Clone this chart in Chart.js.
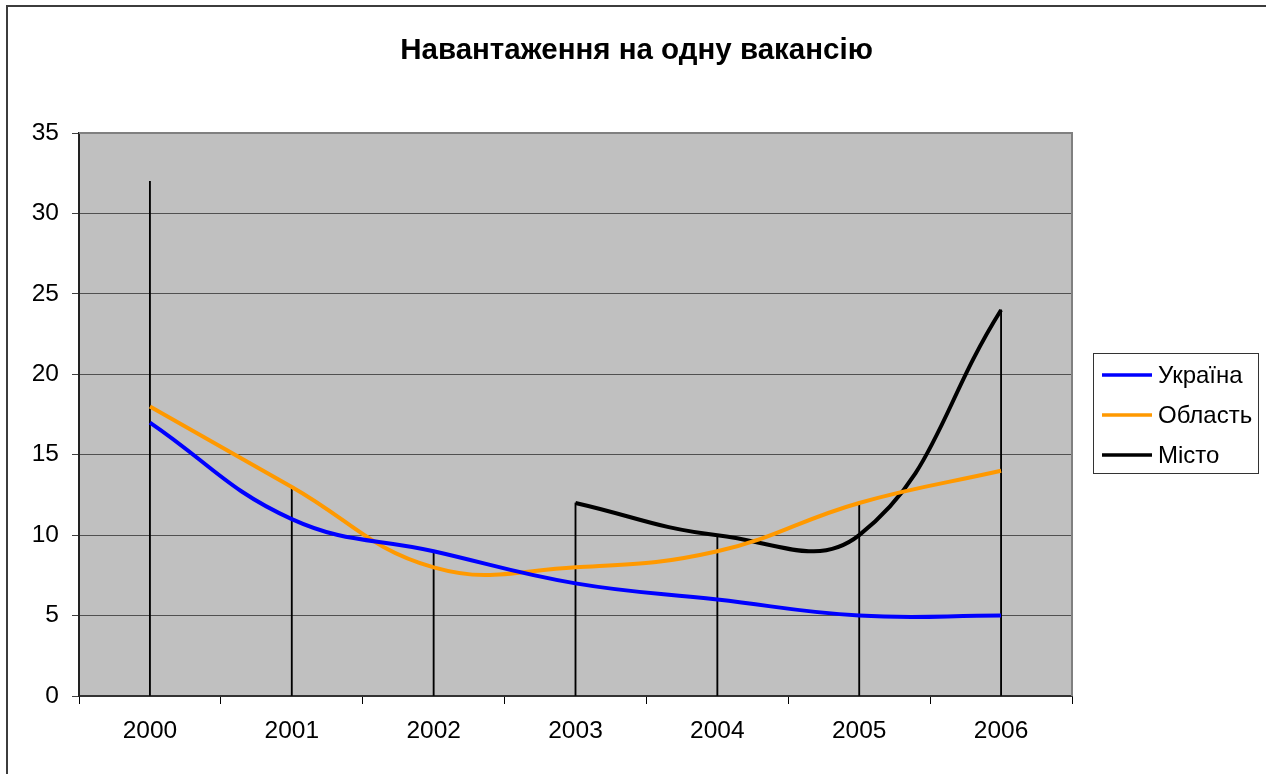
<!DOCTYPE html>
<html>
<head>
<meta charset="utf-8">
<script src="https://cdn.jsdelivr.net/npm/chart.js@4"></script>
<style>
  html, body { margin: 0; padding: 0; background: #fff; }
  #wrap { width: 1266px; height: 774px; position: relative; }
</style>
</head>
<body>
<div id="wrap"><canvas id="c" width="1266" height="774"></canvas></div>
<script>
const chartTitle = 'Навантаження на одну вакансію';
const categories = ['2000', '2001', '2002', '2003', '2004', '2005', '2006'];
const seriesNames = ['Україна', 'Область', 'Місто'];
const ukraine = [17, 11, 9, 7, 6, 5, 5];
const oblast = [18, 13, 8, 8, 9, 12, 14];
const city = [32, null, null, 12, 10, 10, 24];
const yMin = 0, yMax = 35, yStep = 5;

const seriesColors = ['#0000FF', '#FF9900', '#000000'];
const allSeries = [ukraine, oblast, city];
// drop lines reach the highest value of each category
const dropLines = categories.map((_, i) =>
  Math.max(...allSeries.map(s => s[i]).filter(v => v !== null)));

const FONT = "'Liberation Sans', Arial, sans-serif";
Chart.defaults.font.family = FONT;
Chart.defaults.color = '#000';

const framePlugin = {
  id: 'frame',
  beforeDraw(chart) {
    const { ctx, chartArea: a } = chart;
    ctx.save();
    ctx.fillStyle = '#fff';
    ctx.fillRect(0, 0, chart.width, chart.height);
    // outer chart border (cut off at right and bottom)
    ctx.strokeStyle = '#3c3c3c';
    ctx.lineWidth = 2;
    ctx.beginPath();
    ctx.moveTo(7, chart.height + 5);
    ctx.lineTo(7, 6);
    ctx.lineTo(chart.width + 5, 6);
    ctx.stroke();
    // plot area
    ctx.fillStyle = '#C0C0C0';
    ctx.fillRect(a.left, a.top, a.right - a.left, a.bottom - a.top);
    ctx.restore();
  },
  beforeDatasetsDraw(chart) {
    const { ctx, chartArea: a } = chart;
    ctx.save();
    ctx.strokeStyle = '#808080';
    ctx.lineWidth = 2;
    ctx.beginPath();
    ctx.moveTo(a.left, a.top);
    ctx.lineTo(a.right, a.top);
    ctx.lineTo(a.right, a.bottom);
    ctx.stroke();
    ctx.restore();
  },
  afterDraw(chart) {
    // legend box
    const { ctx } = chart;
    ctx.save();
    const bx = 1093.5, by = 353.5, bw = 165, bh = 120;
    ctx.strokeStyle = '#333';
    ctx.lineWidth = 1;
    ctx.strokeRect(bx, by, bw, bh);
    ctx.font = '24px ' + FONT;
    ctx.textBaseline = 'middle';
    ctx.textAlign = 'left';
    const items = chart.data.datasets.filter(d => d.type !== 'bar');
    items.forEach((d, i) => {
      const y = 375 + i * 40;
      ctx.strokeStyle = d.borderColor;
      ctx.lineWidth = 3.5;
      ctx.beginPath();
      ctx.moveTo(1102, y);
      ctx.lineTo(1152, y);
      ctx.stroke();
      ctx.fillStyle = '#000';
      ctx.fillText(d.label, 1158, y + 1);
    });
    ctx.restore();
  }
};

const lineDs = (label, data, color) => ({
  type: 'line',
  label, data,
  borderColor: color,
  backgroundColor: color,
  borderWidth: 4,
  pointRadius: 0,
  pointHoverRadius: 0,
  tension: 0.42,
  spanGaps: false,
  fill: false,
  order: 1
});

new Chart(document.getElementById('c'), {
  data: {
    labels: categories,
    datasets: [
      lineDs(seriesNames[0], ukraine, seriesColors[0]),
      lineDs(seriesNames[1], oblast, seriesColors[1]),
      lineDs(seriesNames[2], city, seriesColors[2]),
      {
        type: 'bar',
        label: 'drop',
        data: dropLines,
        backgroundColor: '#000',
        borderWidth: 0,
        barThickness: 1.2,
        order: 10
      }
    ]
  },
  options: {
    responsive: false,
    animation: false,
    events: [],
    layout: { padding: { left: 7, top: 0, right: 0, bottom: 0 } },
    plugins: {
      legend: { display: false },
      tooltip: { enabled: false },
      title: {
        display: true,
        text: chartTitle,
        color: '#000',
        font: { size: 29.5, weight: 'bold', family: FONT, lineHeight: 1.2 },
        padding: { top: 33, bottom: 64.6 }
      }
    },
    scales: {
      x: {
        type: 'category',
        offset: true,
        grid: {
          display: true,
          drawOnChartArea: false,
          drawTicks: true,
          tickLength: 8,
          offset: true,
          color: '#000',
          tickColor: '#000',
          lineWidth: 1
        },
        border: { display: true, color: '#333', width: 2 },
        ticks: { font: { size: 24.5, family: FONT }, color: '#000', padding: 13, maxRotation: 0 },
        afterFit(s) { s.height = 78; }
      },
      y: {
        type: 'linear',
        position: 'left',
        min: yMin,
        max: yMax,
        ticks: { stepSize: yStep, font: { size: 24.5, family: FONT }, color: '#000', padding: 13 },
        grid: {
          color: '#505050',
          lineWidth: 1,
          drawTicks: true,
          tickLength: 7,
          tickColor: '#404040'
        },
        border: { display: true, color: '#222', width: 2 },
        afterFit(s) { s.width = 72; }
      },
      spacer: {
        type: 'linear',
        position: 'right',
        display: true,
        grid: { display: false, drawTicks: false },
        border: { display: false },
        ticks: { display: false },
        afterFit(s) { s.width = 194; }
      }
    }
  },
  plugins: [framePlugin]
});
</script>
</body>
</html>
